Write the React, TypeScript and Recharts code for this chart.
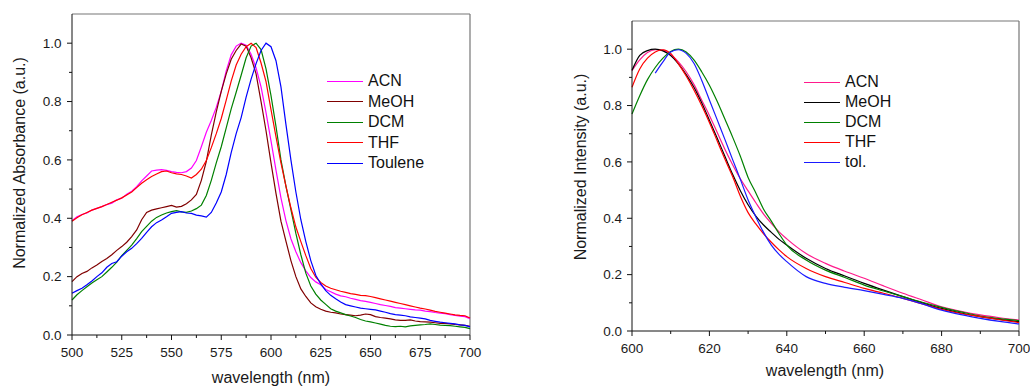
import { LineChart, Line, XAxis, YAxis, ReferenceLine, Legend } from "recharts";

const FONT = '"Liberation Sans", Arial, Helvetica, sans-serif';
const AXIS = "#111";
const FRAME = "#767676";

// ---- absorbance (left) ----
const absWavelength = [
  500, 502.5, 505, 507.5, 510, 512.5, 515, 517.5, 520, 522.5,
  525, 527.5, 530, 532.5, 535, 537.5, 540, 542.5, 545, 547.5,
  550, 552.5, 555, 557.5, 560, 562.5, 565, 567.5, 570, 572.5,
  575, 577.5, 580, 582.5, 585, 587.5, 590, 592.5, 595, 597.5,
  600, 602.5, 605, 607.5, 610, 612.5, 615, 617.5, 620, 622.5,
  625, 627.5, 630, 632.5, 635, 637.5, 640, 642.5, 645, 647.5,
  650, 652.5, 655, 657.5, 660, 662.5, 665, 667.5, 670, 672.5,
  675, 677.5, 680, 682.5, 685, 687.5, 690, 692.5, 695, 697.5, 700,
];
const acnAbs = [
  0.392, 0.405, 0.413, 0.418, 0.428, 0.434, 0.44, 0.447, 0.452, 0.463,
  0.469, 0.482, 0.493, 0.508, 0.528, 0.545, 0.562, 0.565, 0.567, 0.564,
  0.56, 0.557, 0.556, 0.56, 0.572, 0.598, 0.645, 0.695, 0.735, 0.78,
  0.835, 0.905, 0.96, 0.99, 1.0, 0.993, 0.962, 0.915, 0.85, 0.762,
  0.665, 0.565, 0.47, 0.392, 0.33, 0.285, 0.248, 0.22, 0.197, 0.182,
  0.172, 0.156, 0.148, 0.14, 0.134, 0.131, 0.126, 0.122, 0.118, 0.115,
  0.112, 0.108, 0.104, 0.101, 0.098, 0.094, 0.092, 0.09, 0.088, 0.086,
  0.085, 0.082, 0.08, 0.077, 0.075, 0.073, 0.07, 0.067, 0.065, 0.063, 0.056,
];
const meohAbs = [
  0.183, 0.2, 0.211, 0.218, 0.23, 0.24, 0.252, 0.262, 0.275, 0.29,
  0.303, 0.318, 0.337, 0.36, 0.395, 0.42, 0.428, 0.432, 0.436, 0.44,
  0.444, 0.438, 0.441, 0.45, 0.463, 0.482, 0.53, 0.595, 0.685, 0.765,
  0.835, 0.895, 0.945, 0.975, 0.997, 0.99, 0.95, 0.895, 0.8, 0.7,
  0.59, 0.485, 0.39, 0.322, 0.255, 0.2, 0.158, 0.132, 0.11, 0.097,
  0.088, 0.082, 0.078, 0.076, 0.072, 0.07, 0.068, 0.066, 0.068, 0.072,
  0.07, 0.063, 0.06, 0.058, 0.055, 0.052, 0.05, 0.05, 0.052, 0.048,
  0.046, 0.045, 0.044, 0.042, 0.04, 0.04, 0.038, 0.036, 0.035, 0.033, 0.03,
];
const dcmAbs = [
  0.12, 0.138, 0.152, 0.165, 0.178, 0.189, 0.2, 0.216, 0.232, 0.25,
  0.272, 0.29, 0.308, 0.33, 0.354, 0.372, 0.39, 0.403, 0.411, 0.418,
  0.423, 0.426, 0.422, 0.42, 0.425, 0.433, 0.445, 0.478, 0.53, 0.59,
  0.645, 0.71, 0.775, 0.832, 0.89, 0.95, 0.99, 1.0, 0.978, 0.912,
  0.82, 0.715, 0.6, 0.51, 0.43, 0.348, 0.275, 0.212, 0.168, 0.14,
  0.12, 0.105, 0.09, 0.082, 0.076, 0.07, 0.065, 0.06, 0.053, 0.048,
  0.045, 0.041, 0.037, 0.033, 0.03, 0.029, 0.03, 0.028, 0.031, 0.033,
  0.035, 0.036, 0.038, 0.036, 0.034, 0.033, 0.032, 0.03, 0.028, 0.026, 0.022,
];
const thfAbs = [
  0.39, 0.402, 0.412, 0.42, 0.428, 0.434, 0.44, 0.447, 0.455, 0.462,
  0.47, 0.48, 0.49, 0.505, 0.52, 0.532, 0.543, 0.552, 0.56, 0.562,
  0.556, 0.552, 0.55, 0.545, 0.538, 0.55, 0.568, 0.598, 0.642, 0.69,
  0.742, 0.805, 0.87, 0.925, 0.962, 0.988, 1.0, 0.985, 0.932, 0.868,
  0.772, 0.68, 0.59, 0.51, 0.436, 0.37, 0.32, 0.272, 0.228, 0.198,
  0.18, 0.168, 0.16, 0.155, 0.15, 0.146, 0.142, 0.139, 0.136, 0.135,
  0.132, 0.128, 0.124, 0.12, 0.116, 0.112, 0.108, 0.104, 0.1, 0.096,
  0.092, 0.089, 0.085, 0.081, 0.078, 0.075, 0.072, 0.069, 0.067, 0.066, 0.058,
];
const tolAbs = [
  0.143, 0.152, 0.16, 0.172, 0.185, 0.2, 0.213, 0.232, 0.245, 0.251,
  0.27, 0.285, 0.297, 0.313, 0.331, 0.352, 0.371, 0.385, 0.394, 0.405,
  0.417, 0.42, 0.423, 0.418, 0.417, 0.411, 0.408, 0.404, 0.42, 0.452,
  0.49, 0.55, 0.625, 0.69, 0.745, 0.815, 0.877, 0.93, 0.975, 1.0,
  0.988, 0.94, 0.85, 0.722, 0.6, 0.49, 0.395, 0.32, 0.255, 0.205,
  0.175, 0.152, 0.136, 0.124, 0.113, 0.104, 0.1, 0.096, 0.092, 0.09,
  0.088, 0.086, 0.082, 0.078, 0.073, 0.07, 0.068, 0.066, 0.062, 0.06,
  0.058, 0.055, 0.05, 0.047, 0.044, 0.042, 0.04, 0.038, 0.035, 0.033, 0.028,
];

// ---- emission (right) ----
const emWavelength = [
  600, 602, 604, 606, 608, 610, 612, 614, 616, 618, 620, 622, 624, 626, 628,
  630, 632, 634, 636, 638, 640, 645, 650, 655, 660, 665, 670, 675, 680, 685,
  690, 695, 700,
];
const acnEm = [
  0.924, 0.962, 0.988, 0.998, 0.997, 0.98, 0.955, 0.92, 0.875, 0.82, 0.765,
  0.705, 0.645, 0.59, 0.54, 0.497, 0.455, 0.415, 0.382, 0.352, 0.327, 0.275,
  0.24, 0.212, 0.187, 0.16, 0.134, 0.11, 0.086, 0.07, 0.057, 0.047, 0.039,
];
const meohEm = [
  0.925, 0.978, 0.995, 1.0, 0.994, 0.977, 0.948, 0.91, 0.865, 0.81, 0.748,
  0.685, 0.62, 0.556, 0.498, 0.448, 0.408, 0.376, 0.35, 0.325, 0.305, 0.258,
  0.222, 0.195, 0.169, 0.145, 0.122, 0.1, 0.08, 0.064, 0.051, 0.041, 0.033,
];
const dcmEm = [
  0.77, 0.835, 0.892, 0.935, 0.968, 0.992, 1.0, 0.99, 0.962, 0.92, 0.872,
  0.815, 0.752, 0.688, 0.62, 0.545, 0.49, 0.432, 0.39, 0.345, 0.305, 0.252,
  0.216, 0.19, 0.163, 0.142, 0.122, 0.102, 0.084, 0.068, 0.053, 0.044, 0.037,
];
const thfEm = [
  0.865, 0.93, 0.968, 0.99, 0.998, 0.985, 0.948, 0.905, 0.855, 0.8, 0.74,
  0.675, 0.61, 0.548, 0.478, 0.42, 0.38, 0.345, 0.315, 0.288, 0.264, 0.222,
  0.193, 0.172, 0.151, 0.134, 0.116, 0.096, 0.077, 0.062, 0.051, 0.04, 0.03,
];
const tolEm = [
  null, null, null, 0.915, 0.955, 0.99, 0.998, 0.985, 0.95, 0.89, 0.82,
  0.75, 0.68, 0.608, 0.538, 0.465, 0.405, 0.35, 0.305, 0.272, 0.246, 0.193,
  0.169, 0.155, 0.143, 0.13, 0.116, 0.096, 0.074, 0.058, 0.045, 0.034, 0.025,
];

// ticks
const absXTicks = [500, 512.5, 525, 537.5, 550, 562.5, 575, 587.5, 600, 612.5, 625, 637.5, 650, 662.5, 675, 687.5, 700];
const absXMajor = [500, 525, 550, 575, 600, 625, 650, 675, 700];
const emXTicks = [600, 610, 620, 630, 640, 650, 660, 670, 680, 690, 700];
const emXMajor = [600, 620, 640, 660, 680, 700];
const yTicks = [0, 0.1, 0.2, 0.3, 0.4, 0.5, 0.6, 0.7, 0.8, 0.9, 1.0];
const yMajor = [0, 0.2, 0.4, 0.6, 0.8, 1.0];

type Series = { key: string; color: string; values: (number | null)[] };

const absSeries: Series[] = [
  { key: "ACN", color: "#ff00ff", values: acnAbs },
  { key: "MeOH", color: "#800000", values: meohAbs },
  { key: "DCM", color: "#008000", values: dcmAbs },
  { key: "THF", color: "#ff0000", values: thfAbs },
  { key: "Toulene", color: "#0000ff", values: tolAbs },
];
const emSeries: Series[] = [
  { key: "ACN", color: "#ff1a8c", values: acnEm },
  { key: "MeOH", color: "#000000", values: meohEm },
  { key: "DCM", color: "#008000", values: dcmEm },
  { key: "THF", color: "#ff0000", values: thfEm },
  { key: "tol.", color: "#1a1aff", values: tolEm },
];

const absRows = absWavelength.map((w, i) => {
  const r: Record<string, number | null> = { w };
  absSeries.forEach((s) => (r[s.key] = s.values[i]));
  return r;
});
const emRows = emWavelength.map((w, i) => {
  const r: Record<string, number | null> = { w };
  emSeries.forEach((s) => (r[s.key] = s.values[i]));
  return r;
});

const xTick = (majors: number[], off: number) => (props: any) => {
  const { x, y, payload } = props;
  const major = majors.includes(payload.value);
  return (
    <g>
      <line x1={x} x2={x} y1={y} y2={y + (major ? 5 : 3)} stroke={AXIS} />
      {major && (
        <text x={x} y={y + off} dy="0.35em" textAnchor="middle" fontSize={13.5} fontFamily={FONT} fill="#1a1a1a">
          {payload.value}
        </text>
      )}
    </g>
  );
};

const yTick = (off: number) => (props: any) => {
  const { x, y, payload } = props;
  const major = yMajor.includes(payload.value);
  return (
    <g>
      <line x1={x} x2={x - (major ? 5 : 3)} y1={y} y2={y} stroke={AXIS} />
      {major && (
        <text x={x - off} y={y} dy="0.35em" textAnchor="end" fontSize={13.5} fontFamily={FONT} fill="#1a1a1a">
          {payload.value.toFixed(1)}
        </text>
      )}
    </g>
  );
};

const title = (x: number, y: number, text: string, vertical = false) => () => (
  <text
    x={x}
    y={y}
    textAnchor="middle"
    dominantBaseline={vertical ? "central" : "auto"}
    transform={vertical ? `rotate(-90 ${x} ${y})` : undefined}
    fontSize={16}
    fontFamily={FONT}
    fill="#1a1a1a"
  >
    {text}
  </text>
);

// legend drawn from the series list so order and colours follow the plot
const legendContent = (series: Series[], rowH: number) => () => (
  <div style={{ fontFamily: FONT }}>
    {series.map((s) => (
      <div key={s.key} style={{ display: "flex", alignItems: "center", height: rowH }}>
        <div style={{ width: 36, height: 0, borderTop: `1.5px solid ${s.color}` }} />
        <span style={{ marginLeft: 5, fontSize: 16, color: "#111", lineHeight: 1 }}>{s.key}</span>
      </div>
    ))}
  </div>
);

export default function App() {
  return (
    <div style={{ position: "absolute", left: 0, top: 0, width: 1030, height: 388, background: "#fff" }}>
      <div style={{ position: "absolute", left: 0, top: 0 }}>
        <LineChart width={520} height={388} data={absRows} margin={{ top: 14, right: 50, bottom: 0, left: 0 }}>
          <XAxis
            dataKey="w"
            type="number"
            domain={[500, 700]}
            ticks={absXTicks}
            interval={0}
            tickSize={0}
            tickMargin={0}
            tickLine={false}
            tick={xTick(absXMajor, 17)}
            axisLine={{ stroke: AXIS }}
            height={53}
            label={{ content: title(271, 383, "wavelength (nm)") }}
          />
          <YAxis
            type="number"
            domain={[0, 1.1]}
            ticks={yTicks}
            interval={0}
            tickSize={0}
            tickMargin={0}
            tickLine={false}
            tick={yTick(10.5)}
            axisLine={{ stroke: AXIS }}
            width={72}
            label={{ content: title(19.5, 163, "Normalized Absorbance (a.u.)", true) }}
          />
          <ReferenceLine y={1.1} stroke={FRAME} strokeWidth={1.2} />
          <ReferenceLine x={700} stroke={FRAME} strokeWidth={1.2} />
          {absSeries.map((s) => (
            <Line
              key={s.key}
              dataKey={s.key}
              name={s.key}
              stroke={s.color}
              strokeWidth={1.2}
              dot={false}
              type="linear"
              isAnimationActive={false}
            />
          ))}
          <Legend
            layout="horizontal"
            verticalAlign="middle"
            align="center"
            content={legendContent(absSeries, 20.5)}
            wrapperStyle={{ left: 327, top: 71, width: 130, height: 104 }}
          />
        </LineChart>
      </div>
      <div style={{ position: "absolute", left: 520, top: 0 }}>
        <LineChart width={510} height={388} data={emRows} margin={{ top: 21, right: 11, bottom: 0, left: 0 }}>
          <XAxis
            dataKey="w"
            type="number"
            domain={[600, 700]}
            ticks={emXTicks}
            interval={0}
            tickSize={0}
            tickMargin={0}
            tickLine={false}
            tick={xTick(emXMajor, 17)}
            axisLine={{ stroke: AXIS }}
            height={57}
            label={{ content: title(305, 376, "wavelength (nm)") }}
          />
          <YAxis
            type="number"
            domain={[0, 1.1]}
            ticks={yTicks}
            interval={0}
            tickSize={0}
            tickMargin={0}
            tickLine={false}
            tick={yTick(10)}
            axisLine={{ stroke: AXIS }}
            width={112}
            label={{ content: title(60, 167, "Normalized Intensity (a.u.)", true) }}
          />
          <ReferenceLine y={1.1} stroke={FRAME} strokeWidth={1.2} />
          <ReferenceLine x={700} stroke={FRAME} strokeWidth={1.2} />
          {emSeries.map((s) => (
            <Line
              key={s.key}
              dataKey={s.key}
              name={s.key}
              stroke={s.color}
              strokeWidth={1.2}
              dot={false}
              type="monotone"
              isAnimationActive={false}
            />
          ))}
          <Legend
            layout="horizontal"
            verticalAlign="middle"
            align="center"
            content={legendContent(emSeries, 20.1)}
            wrapperStyle={{ left: 284, top: 72, width: 120, height: 101 }}
          />
        </LineChart>
      </div>
    </div>
  );
}
